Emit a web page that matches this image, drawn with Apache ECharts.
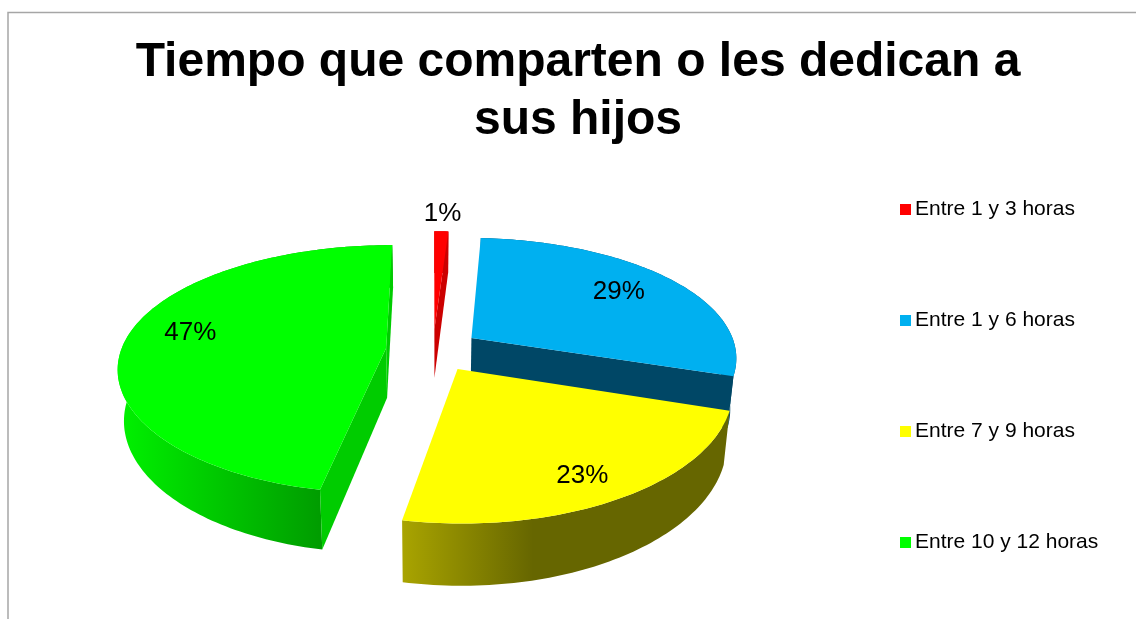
<!DOCTYPE html>
<html>
<head>
<meta charset="utf-8">
<style>html,body{margin:0;padding:0;background:#fff}#c{width:1136px;height:619px}</style>
<script src="https://cdn.jsdelivr.net/npm/echarts@6/dist/echarts.min.js"></script>
</head>
<body>
<div id="c"></div>
<script>
const titleText = 'Tiempo que comparten o les dedican a\nsus hijos';
const categories = ['Entre 1 y 3 horas', 'Entre 1 y 6 horas', 'Entre 7 y 9 horas', 'Entre 10 y 12 horas'];
const values = [1, 29, 23, 47];
const topColors = ['#ff0000', '#00b0f0', '#ffff00', '#00ff00'];
const sideColors = ['#cc0000', '#004766', '#666600', '#00cc00'];
const rimStops = [
  [[0, '#cc0000'], [1, '#cc0000']],
  [[0, '#004766'], [1, '#004766']],
  [[0, '#a9a400'], [0.4, '#666600'], [1, '#666600']],
  [[0, '#00f200'], [0.74, '#009c00'], [1, '#009c00']]
];
const labelRadii = [1.22, 0.739, 0.83, 0.77];
const labelTurn = [0, -0.4, 1.9, 4.4];

const FONT = '"Liberation Sans", Arial, sans-serif';
const view = { cx: 433, cy: 350, rx: 265, ry: 121, perspX: 0.15, perspY: 0.17, depth: 50, shrink: 0.98, explode: 0.178 };
const total = values.reduce((a, b) => a + b, 0);

function project(u, v, low) {
  const sx = 1 / (1 + view.perspX * v);
  const sy = 1 / (1 + view.perspY * v);
  let x = view.cx + u * sx * view.rx;
  let y = view.cy - v * sy * view.ry;
  if (low) {
    x = view.cx + (x - view.cx) * view.shrink;
    y += view.depth * sy;
  }
  return [x, y];
}
function area(p) {
  let a = 0;
  for (let i = 0; i < p.length; i++) {
    const q = p[(i + 1) % p.length];
    a += p[i][0] * q[1] - q[0] * p[i][1];
  }
  return a;
}
function sliceRender(index) {
  return function () {
    const before = values.slice(0, index).reduce((a, b) => a + b, 0);
    const a0 = before / total * 2 * Math.PI;
    const a1 = (before + values[index]) / total * 2 * Math.PI;
    const mid = (a0 + a1) / 2;
    const ox = Math.sin(mid) * view.explode, oy = Math.cos(mid) * view.explode;
    const steps = Math.max(4, Math.ceil((a1 - a0) / 0.02));
    const rimTop = [], rimLow = [];
    for (let i = 0; i <= steps; i++) {
      const t = a0 + (a1 - a0) * i / steps;
      const u = ox + Math.sin(t), v = oy + Math.cos(t);
      rimTop.push(project(u, v, false));
      rimLow.push(project(u, v, true));
    }
    const apexTop = project(ox, oy, false), apexLow = project(ox, oy, true);
    const children = [];
    const band = rimTop.concat(rimLow.slice().reverse());
    children.push({
      type: 'polygon', shape: { points: band },
      style: {
        fill: {
          type: 'linear', x: 0, y: 0, x2: 1, y2: 0,
          colorStops: rimStops[index].map(s => ({ offset: s[0], color: s[1] }))
        }
      }
    });
    const walls = [
      [apexTop, rimTop[0], rimLow[0], apexLow],
      [rimTop[steps], apexTop, apexLow, rimLow[steps]]
    ];
    walls.forEach(w => {
      if (area(w) < 0) {
        children.push({ type: 'polygon', shape: { points: w }, style: { fill: sideColors[index] } });
      }
    });
    children.push({
      type: 'polygon', shape: { points: [apexTop].concat(rimTop) },
      style: { fill: topColors[index] }
    });
    const r = labelRadii[index];
    const la = mid + labelTurn[index] * Math.PI / 180;
    const lp = project(ox + Math.sin(la) * r, oy + Math.cos(la) * r, false);
    children.push({
      type: 'text',
      style: {
        x: lp[0], y: lp[1], text: values[index] + '%', fill: '#000',
        font: '26px ' + FONT, align: 'center', verticalAlign: 'middle'
      },
      z2: 10
    });
    return { type: 'group', children };
  };
}

const chart = echarts.init(document.getElementById('c'), null, { renderer: 'canvas' });
chart.setOption({
  animation: false,
  backgroundColor: '#fff',
  title: {
    text: titleText, left: 573, top: 29, textAlign: 'center',
    textStyle: { fontFamily: FONT, fontSize: 48, fontWeight: 'bold', color: '#000', lineHeight: 58 }
  },
  legend: {
    orient: 'vertical', left: 895, top: 194, itemWidth: 11, itemHeight: 11, itemGap: 90,
    icon: 'rect', data: categories,
    textStyle: { fontFamily: FONT, fontSize: 21, color: '#000', padding: [0, 0, 0, -1] }
  },
  graphic: [{
    type: 'polyline', silent: true,
    shape: { points: [[8, 619], [8, 12.5], [1136, 12.5]] },
    style: { stroke: '#a6a6a6', lineWidth: 1.5, fill: null }
  }],
  series: categories.map((name, i) => ({
    type: 'custom', name, coordinateSystem: 'none',
    itemStyle: { color: topColors[i] },
    data: [[values[i]]],
    renderItem: sliceRender(i)
  }))
});
</script>
</body>
</html>
